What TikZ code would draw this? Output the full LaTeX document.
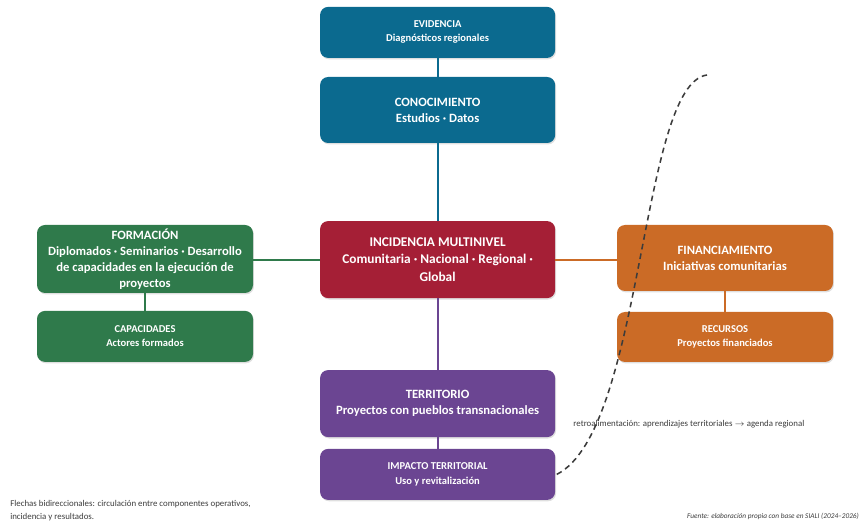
\documentclass[tikz,border=0pt]{standalone}
\usepackage{fontspec}
\setmainfont{Carlito}
\usetikzlibrary{shadows}
\definecolor{azul}{HTML}{0B6A8F}
\definecolor{rojo}{HTML}{A51F36}
\definecolor{verde}{HTML}{2F7A4B}
\definecolor{naranja}{HTML}{CB6B26}
\definecolor{morado}{HTML}{6B4592}
\definecolor{textogris}{HTML}{3C3C3C}

\begin{document}
\begin{tikzpicture}[
    caja/.style={rounded corners=0.2cm, text=white, align=center, inner sep=2pt,
      drop shadow={shadow xshift=0.7pt, shadow yshift=-1pt, opacity=0.25}},
    grande/.style={caja, font=\fontsize{9}{11.5}\selectfont\bfseries},
    chica/.style={caja, font=\fontsize{7.5}{10}\selectfont\bfseries},
    enlace/.style={line width=1.4pt},
    nota/.style={text=textogris, font=\fontsize{6.3}{9}\selectfont, align=left, inner sep=0pt}
  ]
  \useasboundingbox (0,0) rectangle (21.5,-13.175);
  % columna central
  \node[chica, fill=azul, minimum width=5.875cm, minimum height=1.275cm] (evidencia) at (10.94,-0.81) {EVIDENCIA\\Diagnósticos regionales};
  \node[grande, fill=azul, minimum width=5.875cm, minimum height=1.65cm] (conocimiento) at (10.94,-2.75) {CONOCIMIENTO\\Estudios · Datos};
  \node[grande, fill=rojo, minimum width=5.875cm, minimum height=1.925cm, font=\fontsize{9.5}{12.5}\selectfont\bfseries] (incidencia) at (10.94,-6.49) {INCIDENCIA MULTINIVEL\\Comunitaria · Nacional · Regional ·\\Global};
  \node[grande, fill=morado, minimum width=5.875cm, minimum height=1.675cm] (territorio) at (10.94,-10.09) {TERRITORIO\\Proyectos con pueblos transnacionales};
  \node[chica, fill=morado, minimum width=5.875cm, minimum height=1.275cm] (impacto) at (10.94,-11.86) {IMPACTO TERRITORIAL\\Uso y revitalización};
  % lados
  \node[grande, fill=verde, minimum width=5.4cm, minimum height=1.7cm] (formacion) at (3.625,-6.475) {FORMACIÓN\\Diplomados · Seminarios · Desarrollo\\de capacidades en la ejecución de\\proyectos};
  \node[chica, fill=verde, minimum width=5.4cm, minimum height=1.275cm] (capacidades) at (3.625,-8.41) {CAPACIDADES\\Actores formados};
  \node[grande, fill=naranja, minimum width=5.4cm, minimum height=1.65cm] (financiamiento) at (18.125,-6.45) {FINANCIAMIENTO\\Iniciativas comunitarias};
  \node[chica, fill=naranja, minimum width=5.4cm, minimum height=1.25cm] (recursos) at (18.125,-8.425) {RECURSOS\\Proyectos financiados};

  \draw[enlace, azul] (evidencia) -- (conocimiento);
  \draw[enlace, azul] (conocimiento) -- (incidencia);
  \draw[enlace, verde] (formacion.east |- incidencia.west) -- (incidencia.west);
  \draw[enlace, naranja] (incidencia.east) -- (financiamiento.west |- incidencia.east);
  \draw[enlace, morado] (incidencia) -- (territorio);
  \draw[enlace, verde] (formacion) -- (capacidades);
  \draw[enlace, naranja] (financiamiento) -- (recursos);
  \draw[enlace, morado] (territorio) -- (impacto);

  % retroalimentacion
  \coordinate (retro) at (17.675,-1.875);
  \draw[textogris, line width=1.1pt, dash pattern=on 4pt off 3pt]
    ([xshift=1pt]impacto.east) .. controls (16.1,-10.75) and (16.0,-2.1) .. (retro);
  \node[nota, anchor=west] (retrotexto) at (14.33,-10.6) {retroalimentación: aprendizajes territoriales $\rightarrow$ agenda regional};

  % notas
  \node[nota, anchor=north west] (flechas) at (0.25,-12.5) {Flechas bidireccionales: circulación entre componentes operativos,\\incidencia y resultados.};
  \node[nota, anchor=east, font=\fontsize{5.2}{7}\selectfont\itshape] (fuente) at (21.48,-12.9) {Fuente: elaboración propia con base en SIALI (2024–2026)};
\end{tikzpicture}
\end{document}
